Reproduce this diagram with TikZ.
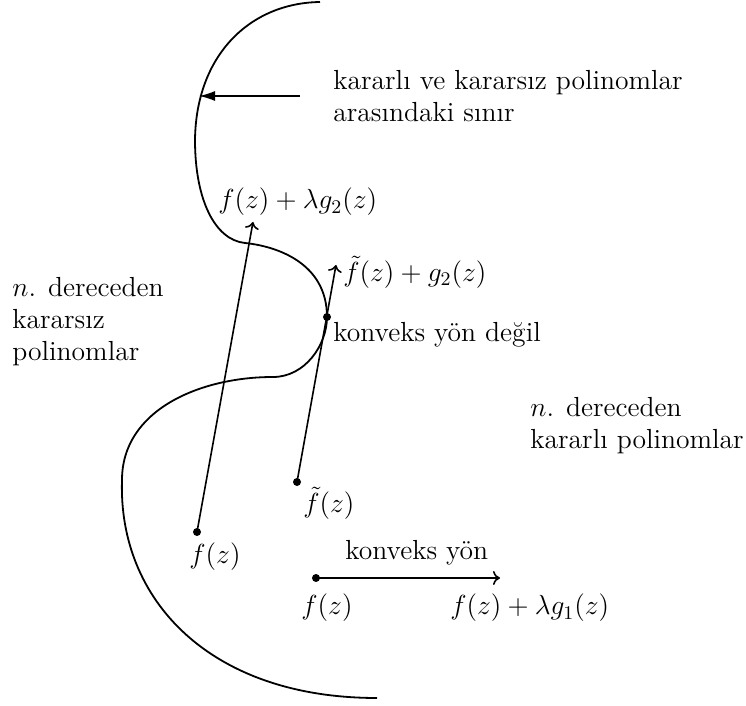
\documentclass[tikz,border=0pt]{standalone}
\usepackage{fix-cm}
\usetikzlibrary{arrows.meta}
\begin{document}
\begin{tikzpicture}[x=0.5pt,y=-0.5pt,
  lbl/.style={inner sep=0pt, font=\fontsize{13.8}{16}\selectfont, align=left},
  conn/.style={line width=0.8pt},
  opentip/.style={-{To[length=3.5pt,width=7pt]}},
  dotpt/.style={circle, fill, inner sep=0pt, minimum size=4pt}]
\useasboundingbox (0,0) rectangle (746,706);
% boundary curve
\draw[line width=0.9pt]
  (320,2) .. controls (250,3) and (196,55) .. (195,140)
  .. controls (195,200) and (215,240) .. (245,243)
  .. controls (275,246) and (327,262) .. (327,317)
  .. controls (327,345) and (305,377) .. (273,377)
  .. controls (200,377) and (122,410) .. (122,480)
  .. controls (118,600) and (210,698) .. (377,698);
% arrow to boundary
\coordinate (b0) at (300,96);
\coordinate (b1) at (199,96);
\draw[conn,-{Latex[length=8pt,width=5pt]}] (b0) -- (b1);
% points
\node[dotpt] (f1) at (197,532) {};
\coordinate (t1) at (253,222);
\draw[conn,opentip] (f1.center) -- (t1);
\node[dotpt] (f2) at (297,482) {};
\coordinate (t2) at (336,265);
\draw[conn,opentip] (f2.center) -- (t2);
\node[dotpt] (c) at (327,317) {};
\node[dotpt] (f3) at (316,578) {};
\coordinate (t3) at (500,578);
\draw[conn,opentip] (f3.center) -- (t3);
% labels
\node[lbl, anchor=west] (bd) at (333,96) {kararlı ve kararsız polinomlar\\arasındaki sınır};
\node[lbl, anchor=west] (l2) at (218,202) {$f(z)+\lambda g_2(z)$};
\node[lbl, anchor=west] (l3) at (343,272) {$\tilde f(z)+g_2(z)$};
\node[lbl, anchor=west] (nc) at (333,335) {konveks yön değil};
\node[lbl, anchor=west] (us) at (12,322) {$n$. dereceden\\kararsız\\polinomlar};
\node[lbl, anchor=west] (st) at (530,426) {$n$. dereceden\\kararlı polinomlar};
\node[lbl, anchor=west] (lf2) at (303,503) {$\tilde f(z)$};
\node[lbl] (lf1) at (215,557) {$f(z)$};
\node[lbl, anchor=west] (cv) at (345,553) {konveks yön};
\node[lbl] (lf3) at (327,608) {$f(z)$};
\node[lbl, anchor=west] (lt3) at (450,608) {$f(z)+\lambda g_1(z)$};
\end{tikzpicture}
\end{document}
